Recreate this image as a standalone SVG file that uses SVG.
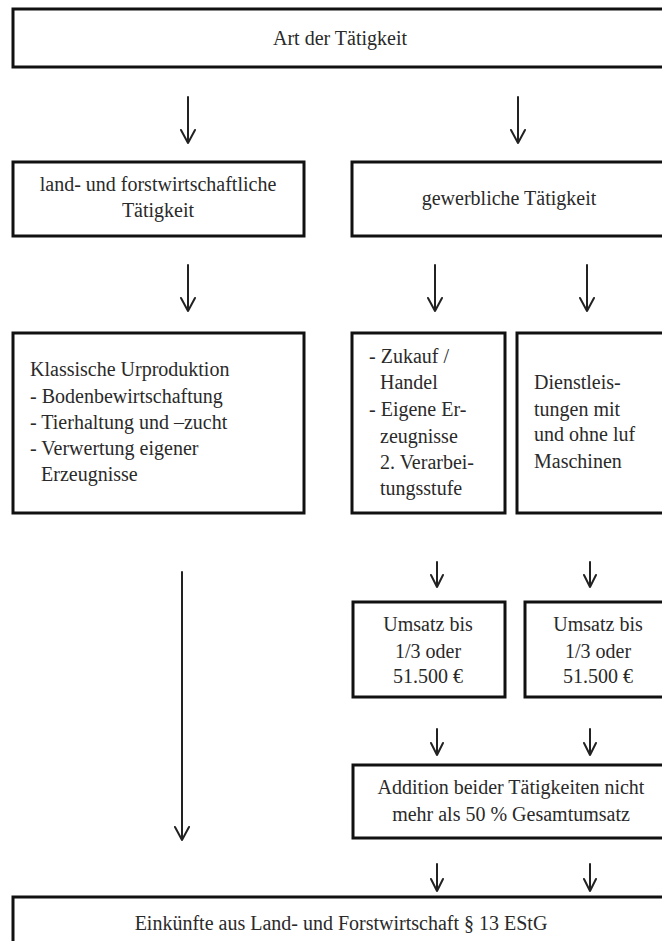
<svg xmlns="http://www.w3.org/2000/svg" width="662" height="941" viewBox="0 0 662 941">
<style>
.box{fill:#fff;stroke:#111;stroke-width:3}
.t{font-family:"Liberation Serif","Times New Roman",serif;font-size:20px;fill:#2a2a2a}
.c{text-anchor:middle}
.arr{fill:none;stroke:#222;stroke-width:2;stroke-linecap:round;stroke-linejoin:round}
</style>
<rect width="662" height="941" fill="#fff"/>
<g id="connectors">
<path class="arr" d="M188,97V143M181,130L188,143L195,130"/>
<path class="arr" d="M518,97V143M511,130L518,143L525,130"/>
<path class="arr" d="M188,265V311M181,298L188,311L195,298"/>
<path class="arr" d="M435,265V311M428,298L435,311L442,298"/>
<path class="arr" d="M587,265V311M580,298L587,311L594,298"/>
<path class="arr" d="M182,572V840M175,827L182,840L189,827"/>
<path class="arr" d="M437,562V587M431,575L437,587L443,575"/>
<path class="arr" d="M590,562V587M584,575L590,587L596,575"/>
<path class="arr" d="M437,729V755M431,743L437,755L443,743"/>
<path class="arr" d="M590,729V755M584,743L590,755L596,743"/>
<path class="arr" d="M437,864V891M431,879L437,891L443,879"/>
<path class="arr" d="M590,864V891M584,879L590,891L596,879"/>
</g>
<g id="n-art">
<rect class="box" x="13" y="9" width="660" height="58"/>
<text class="t c" x="340" y="45">Art der Tätigkeit</text>
</g>
<g id="n-luf">
<rect class="box" x="13" y="162" width="291" height="74"/>
<text class="t c" x="158" y="191">land- und forstwirtschaftliche</text>
<text class="t c" x="158" y="217">Tätigkeit</text>
</g>
<g id="n-gew">
<rect class="box" x="352" y="162" width="320" height="74"/>
<text class="t c" x="509" y="205">gewerbliche Tätigkeit</text>
</g>
<g id="n-urprod">
<rect class="box" x="13" y="333" width="291" height="180"/>
<text class="t" x="30" y="376">Klassische Urproduktion</text>
<text class="t" x="30" y="403">- Bodenbewirtschaftung</text>
<text class="t" x="30" y="429">- Tierhaltung und –zucht</text>
<text class="t" x="30" y="455">- Verwertung eigener</text>
<text class="t" x="41" y="481">Erzeugnisse</text>
</g>
<g id="n-zukauf">
<rect class="box" x="352" y="333" width="153" height="180"/>
<text class="t" x="369" y="363">- Zukauf /</text>
<text class="t" x="380" y="389">Handel</text>
<text class="t" x="369" y="416">- Eigene Er-</text>
<text class="t" x="380" y="443">zeugnisse</text>
<text class="t" x="380" y="469">2. Verarbei-</text>
<text class="t" x="380" y="495">tungsstufe</text>
</g>
<g id="n-dienst">
<rect class="box" x="517" y="333" width="160" height="180"/>
<text class="t" x="534" y="389">Dienstleis-</text>
<text class="t" x="534" y="416">tungen mit</text>
<text class="t" x="534" y="441">und ohne luf</text>
<text class="t" x="534" y="468">Maschinen</text>
</g>
<g id="n-umsatz1">
<rect class="box" x="353" y="602" width="152" height="95"/>
<text class="t c" x="428" y="631">Umsatz bis</text>
<text class="t c" x="428" y="658">1/3 oder</text>
<text class="t c" x="428" y="683">51.500 €</text>
</g>
<g id="n-umsatz2">
<rect class="box" x="525" y="602" width="150" height="95"/>
<text class="t c" x="598" y="631">Umsatz bis</text>
<text class="t c" x="598" y="658">1/3 oder</text>
<text class="t c" x="598" y="683">51.500 €</text>
</g>
<g id="n-addition">
<rect class="box" x="353" y="765" width="320" height="73"/>
<text class="t c" x="511" y="794">Addition beider Tätigkeiten nicht</text>
<text class="t c" x="511" y="821">mehr als 50 % Gesamtumsatz</text>
</g>
<g id="n-einkuenfte">
<rect class="box" x="13" y="897" width="660" height="60"/>
<text class="t c" x="341" y="930">Einkünfte aus Land- und Forstwirtschaft § 13 EStG</text>
</g>
</svg>
